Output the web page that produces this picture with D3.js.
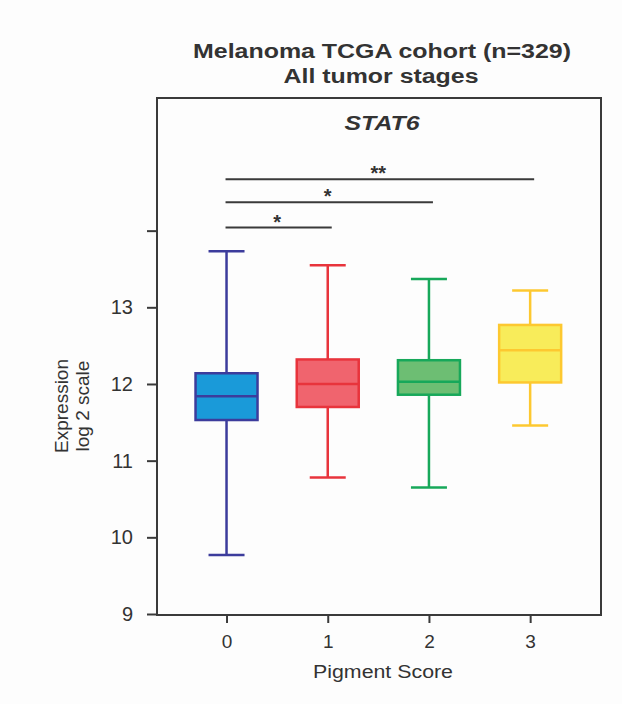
<!DOCTYPE html>
<html>
<head>
<meta charset="utf-8">
<script src="https://cdn.jsdelivr.net/npm/d3@7"></script>
<style>
  body { margin: 0; background: #fdfdfd; }
  svg { font-family: "Liberation Sans", Arial, sans-serif; }
</style>
</head>
<body>
<div id="chart"></div>
<script>
// box statistics (log2 expression)
var scores = [0, 1, 2, 3];
var whiskerLow = [9.77, 10.78, 10.65, 11.46];
var q1 = [11.53, 11.70, 11.86, 12.02];
var median = [11.84, 12.00, 12.03, 12.44];
var q3 = [12.14, 12.32, 12.31, 12.77];
var whiskerHigh = [13.73, 13.55, 13.37, 13.22];
var fillColors = ['#1a9ad9', '#f0646e', '#6dbe73', '#f8ec5a'];
var strokeColors = ['#3c3c9c', '#e8343c', '#17a85a', '#fdc830'];
var yTicks = [9, 10, 11, 12, 13, 14];
var yTickLabels = ['9', '10', '11', '12', '13', ''];

// significance brackets: from group 0 to group "to"
var sigTo = [1, 2, 3];
var sigLevel = [14.04, 14.37, 14.67];
var sigLabel = ['*', '*', '**'];

const width = 622;
const height = 704;
const plotLeft = 157, plotRight = 601, plotTop = 98, plotBottom = 615;

const svg = d3.select('#chart').append('svg')
    .attr('width', width)
    .attr('height', height);

const x = d3.scaleLinear()
    .domain([-0.687, 3.70])
    .range([plotLeft, plotRight]);

const y = d3.scaleLinear()
    .domain([9, 15.73])
    .range([plotBottom - 1, plotTop]);

// titles (the original lettering is a bit wider than Liberation Sans)
svg.append('text')
    .attr('x', 382).attr('y', 58)
    .attr('text-anchor', 'middle')
    .attr('font-size', 20).attr('font-weight', 'bold')
    .attr('textLength', 378).attr('lengthAdjust', 'spacingAndGlyphs')
    .attr('fill', '#333')
    .text('Melanoma TCGA cohort (n=329)');
svg.append('text')
    .attr('x', 381).attr('y', 83)
    .attr('text-anchor', 'middle')
    .attr('font-size', 20).attr('font-weight', 'bold')
    .attr('textLength', 195).attr('lengthAdjust', 'spacingAndGlyphs')
    .attr('fill', '#333')
    .text('All tumor stages');

// frame
svg.append('rect')
    .attr('x', plotLeft).attr('y', plotTop)
    .attr('width', plotRight - plotLeft).attr('height', plotBottom - plotTop)
    .attr('fill', 'none')
    .attr('stroke', '#3a3a3a')
    .attr('stroke-width', 2);

svg.append('text')
    .attr('x', 382).attr('y', 130)
    .attr('text-anchor', 'middle')
    .attr('font-size', 21).attr('font-weight', 'bold').attr('font-style', 'italic')
    .attr('textLength', 75).attr('lengthAdjust', 'spacingAndGlyphs')
    .attr('fill', '#333')
    .text('STAT6');

// y axis
const yAxis = d3.axisLeft(y)
    .tickValues(yTicks)
    .tickFormat((d, i) => yTickLabels[i])
    .tickSize(10)
    .tickPadding(14);
const yg = svg.append('g')
    .attr('transform', `translate(${plotLeft},0)`)
    .call(yAxis);
yg.select('.domain').remove();
yg.selectAll('line').attr('stroke', '#3a3a3a').attr('stroke-width', 2);
yg.selectAll('text').attr('font-size', 20).attr('fill', '#333')
    .attr('font-family', '"Liberation Sans", Arial, sans-serif');

// x axis
const xAxis = d3.axisBottom(x)
    .tickValues(scores)
    .tickFormat(d3.format('d'))
    .tickSize(8)
    .tickPadding(12);
const xg = svg.append('g')
    .attr('transform', `translate(0,${plotBottom})`)
    .call(xAxis);
xg.select('.domain').remove();
xg.selectAll('line').attr('stroke', '#3a3a3a').attr('stroke-width', 2);
xg.selectAll('text').attr('font-size', 19).attr('fill', '#333')
    .attr('font-family', '"Liberation Sans", Arial, sans-serif');

// axis titles
svg.append('text')
    .attr('x', 383).attr('y', 678)
    .attr('text-anchor', 'middle')
    .attr('font-size', 18).attr('fill', '#333')
    .attr('textLength', 140).attr('lengthAdjust', 'spacingAndGlyphs')
    .text('Pigment Score');

const ylab = svg.append('text')
    .attr('transform', 'translate(68,406) rotate(-90)')
    .attr('text-anchor', 'middle')
    .attr('font-size', 19).attr('fill', '#333');
ylab.append('tspan').attr('x', 0).attr('y', 0).text('Expression');
ylab.append('tspan').attr('x', 0).attr('y', 21).text('log 2 scale');

// boxes
const boxW = 62, capW = 36;
const groups = svg.selectAll('g.box')
    .data(scores)
    .enter().append('g')
    .attr('class', 'box');

groups.append('line')
    .attr('x1', d => x(d)).attr('x2', d => x(d))
    .attr('y1', (d, i) => y(whiskerLow[i]))
    .attr('y2', (d, i) => y(whiskerHigh[i]))
    .attr('stroke', (d, i) => strokeColors[i])
    .attr('stroke-width', 2.5);

[whiskerLow, whiskerHigh].forEach(arr => {
    groups.append('line')
        .attr('x1', d => x(d) - capW / 2).attr('x2', d => x(d) + capW / 2)
        .attr('y1', (d, i) => y(arr[i])).attr('y2', (d, i) => y(arr[i]))
        .attr('stroke', (d, i) => strokeColors[i])
        .attr('stroke-width', 2.5);
});

groups.append('rect')
    .attr('x', d => x(d) - boxW / 2)
    .attr('y', (d, i) => y(q3[i]))
    .attr('width', boxW)
    .attr('height', (d, i) => y(q1[i]) - y(q3[i]))
    .attr('fill', (d, i) => fillColors[i])
    .attr('stroke', (d, i) => strokeColors[i])
    .attr('stroke-width', 2.5);

groups.append('line')
    .attr('x1', d => x(d) - boxW / 2).attr('x2', d => x(d) + boxW / 2)
    .attr('y1', (d, i) => y(median[i])).attr('y2', (d, i) => y(median[i]))
    .attr('stroke', (d, i) => strokeColors[i])
    .attr('stroke-width', 2.5);

// significance lines
sigTo.forEach((to, i) => {
    svg.append('line')
        .attr('x1', x(0) - 1).attr('x2', x(to) + 4)
        .attr('y1', y(sigLevel[i])).attr('y2', y(sigLevel[i]))
        .attr('stroke', '#3a3a3a')
        .attr('stroke-width', 2);
    svg.append('text')
        .attr('x', (x(0) + x(to)) / 2)
        .attr('y', y(sigLevel[i]) + 1)
        .attr('text-anchor', 'middle')
        .attr('font-size', 20).attr('font-weight', 'bold')
        .attr('fill', '#333')
        .text(sigLabel[i]);
});
</script>
</body>
</html>
